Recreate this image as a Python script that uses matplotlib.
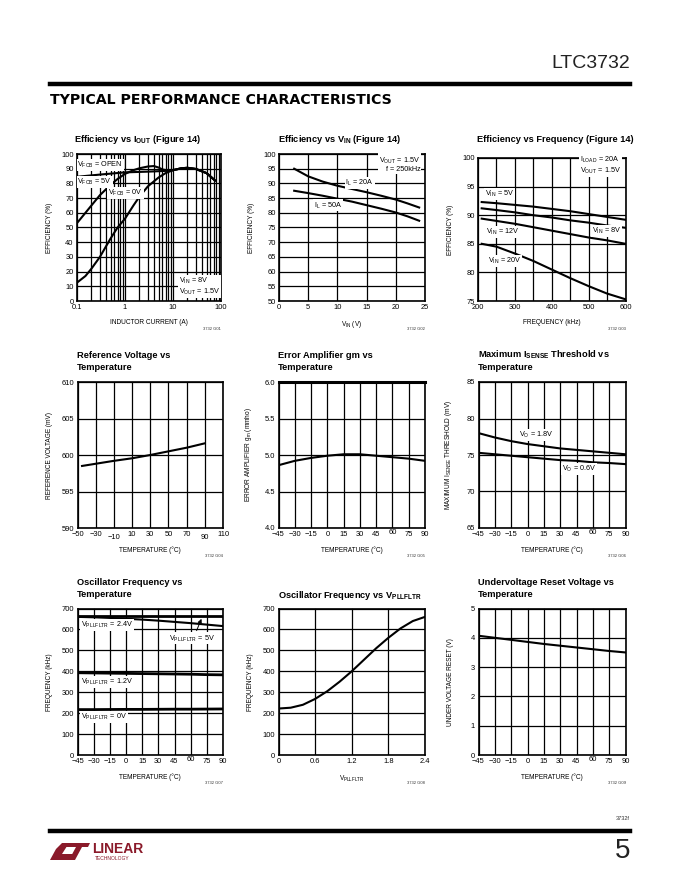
import numpy as np
import matplotlib.pyplot as plt
import matplotlib.transforms as mtransforms
from matplotlib.patches import Polygon

plt.rcParams['font.family'] = ['Liberation Sans Narrow', 'Liberation Sans', 'DejaVu Sans']
plt.rcParams['axes.unicode_minus'] = True

W, H = 680, 880

# ---------------- data ----------------
# G01 efficiency vs inductor current
iout_0v = [0.1, 0.15, 0.2, 0.3, 0.5, 0.7, 1, 1.5, 2, 3, 5, 7, 10, 15, 20, 30, 50, 75]
eff_0v = [12.5, 17, 22, 30, 42.5, 50, 56, 65, 71, 78, 84, 87, 89, 90.3, 90.6, 89.8, 87, 82]
iout_5v = [0.1, 0.15, 0.2, 0.3, 0.5, 0.7, 1, 1.5, 2, 3, 4, 5, 6, 8, 10, 15, 20, 30, 50, 75]
eff_5v = [53, 60, 65, 72, 79, 83, 86.5, 89, 90.3, 91.5, 91.8, 90.8, 89.5, 88.7, 89, 90.3, 90.6, 89.8, 87, 82]
iout_open = [0.1, 0.3, 1, 3, 5, 8, 10, 15, 20, 30, 50, 75]
eff_open = [84.5, 86, 87.5, 88, 88.3, 88.6, 89, 90.3, 90.6, 89.8, 87, 82]

# G02 efficiency vs VIN
vin = [2.6, 5, 7.5, 10, 12.5, 15, 17.5, 20, 22, 24]
eff_20a = [95, 92.4, 90.6, 89.2, 88.1, 87, 85.8, 84.5, 83.2, 81.8]
eff_50a = [87.5, 86.7, 85.8, 84.8, 83.8, 82.6, 81.4, 80.1, 78.8, 77.3]

# G03 efficiency vs frequency
freq = [210, 250, 300, 350, 400, 450, 500, 550, 600]
eff_vin5 = [92.3, 92.1, 91.8, 91.5, 91.1, 90.7, 90.2, 89.7, 89.2]
eff_vin8 = [91.2, 90.9, 90.5, 90.0, 89.6, 89.1, 88.7, 88.2, 87.8]
eff_vin12 = [89.4, 89.0, 88.5, 87.9, 87.3, 86.7, 86.1, 85.6, 85.0]
eff_vin20 = [85.0, 84.5, 83.3, 82.0, 80.5, 79.0, 77.6, 76.3, 75.3]

# G04 reference voltage vs temperature
temp_ref = [-45, -30, -10, 10, 30, 50, 70, 90]
vref = [598.5, 598.8, 599.2, 599.55, 600.0, 600.5, 601.0, 601.6]

# temperature axis shared by G05, G06, G07, G09
temp = [-45, -30, -15, 0, 15, 30, 45, 60, 75, 90]
gm = [4.86, 4.92, 4.96, 4.99, 5.01, 5.01, 4.99, 4.97, 4.95, 4.92]
isense_18 = [78.0, 77.4, 76.9, 76.5, 76.2, 75.9, 75.7, 75.5, 75.3, 75.1]
isense_06 = [75.3, 75.1, 74.9, 74.7, 74.5, 74.3, 74.2, 74.0, 73.9, 73.75]
fosc_5v = [665, 665, 665, 665, 665, 665, 665, 665, 665, 665]
fosc_24v = [660, 658, 655, 651, 647, 642, 636, 630, 623, 616]
fosc_12v = [393, 392, 391, 390, 389, 388, 387, 386, 384, 383]
fosc_0v = [217, 217, 217.5, 218, 218, 218.5, 219, 219, 219.5, 220]
uvr = [4.07, 4.0, 3.93, 3.86, 3.79, 3.73, 3.67, 3.61, 3.55, 3.50]

# G08 oscillator frequency vs VPLLFLTR
vpll = [0, 0.2, 0.4, 0.6, 0.8, 1.0, 1.2, 1.4, 1.6, 1.8, 2.0, 2.2, 2.4]
fosc_pll = [222, 226, 240, 268, 305, 350, 400, 455, 510, 560, 605, 640, 660]

temp_ticks = [-45, -30, -15, 0, 15, 30, 45, 60, 75, 90]
temp_labels = ['\u221245', '\u221230', '\u221215', '0', '15', '30', '45', '60', '75', '90']


def sub(base, s):
    return base + r'$_{\mathregular{' + s + '}}$'


def rect(l, r, t, b):
    return [l / W, 1 - b / H, (r - l) / W, (b - t) / H]


def ftext(x, y, s, **kw):
    return fig.text(x / W, 1 - y / H, s, **kw)


TF = 5.4   # tick font
LF = 4.7   # axis label font
TITLE = 6.7
LW = 1.5


def style(ax, xlabel, ylabel, fig_id):
    for sp in ax.spines.values():
        sp.set_linewidth(1.2)
    ax.tick_params(which='both', length=0, labelsize=TF, pad=2.5)
    ax.grid(True, which='both', color='black', linewidth=0.9)
    ax.set_axisbelow(True)
    ax.set_xlabel(xlabel, fontsize=LF)
    ax.set_ylabel(ylabel, fontsize=LF)
    ax.xaxis.set_label_coords(0.5, -0.125)
    ax.yaxis.set_label_coords(-0.165, 0.5)
    pos = ax.get_position()
    fig.text(pos.x1, pos.y0 - 28 / H, fig_id, fontsize=3, ha='right', va='center', color='#333333')


def label(ax, x, y, s, **kw):
    kw.setdefault('fontsize', 5.2)
    kw.setdefault('va', 'center')
    ax.text(x, y, s, bbox=dict(facecolor='white', edgecolor='none', pad=0.6),
            linespacing=1.15, **kw)


def nudge(ax, texts, dy):
    for lab in ax.get_xticklabels():
        if lab.get_text() in texts:
            lab.set_transform(lab.get_transform() +
                              mtransforms.ScaledTranslation(0, dy / 72, fig.dpi_scale_trans))


fig = plt.figure(figsize=(6.8, 8.8), dpi=100)

# ---------------- page furniture ----------------
ftext(630, 63, 'LTC3732', fontsize=14, ha='right', va='center', color='#222222')
fig.add_artist(plt.Line2D([50 / W, 630 / W], [1 - 84 / H] * 2, color='black', linewidth=3.2))
ftext(50, 100, 'TYPICAL PERFORMANCE CHARACTERISTICS', fontsize=10.2, fontweight='heavy',
      family=['DejaVu Sans'], ha='left', va='center')
fig.add_artist(plt.Line2D([50 / W, 630 / W], [1 - 831 / H] * 2, color='black', linewidth=3.2))
ftext(630, 818, '3732f', fontsize=4, ha='right', va='center', color='#333333')
ftext(630, 851, '5', fontsize=20, ha='right', va='center', color='#222222')
red = '#8a1a2a'
logo1 = [(50, 860), (56, 849), (62, 843), (69, 843), (62, 854), (75, 854), (72, 860)]
logo2 = [(64, 843), (90, 843), (88, 847), (82, 847), (75, 860), (69, 860), (76, 847), (62, 847)]
for pts in (logo1, logo2):
    fig.add_artist(Polygon([(x / W, 1 - y / H) for x, y in pts], closed=True,
                           transform=fig.transFigure, facecolor=red, edgecolor='none'))
ftext(92, 849, 'LINEAR', fontsize=10, fontweight='bold', color=red, ha='left', va='center')
ftext(95, 858, 'TECHNOLOGY', fontsize=3.6, color=red, ha='left', va='center')

# ---------------- titles ----------------
ftext(74, 139, 'Efficiency vs ' + sub('I', 'OUT') + ' (Figure 14)', fontsize=TITLE, fontweight='bold', va='center')
ftext(278, 139, 'Efficiency vs ' + sub('V', 'IN') + ' (Figure 14)', fontsize=TITLE, fontweight='bold', va='center')
ftext(477, 139, 'Efficiency vs Frequency (Figure 14)', fontsize=TITLE, fontweight='bold', va='center')
titles2 = [(77, ['Reference Voltage vs', 'Temperature']),
           (278, ['Error Amplifier gm vs', 'Temperature']),
           (478, ['Maximum ' + sub('I', 'SENSE') + ' Threshold vs', 'Temperature'])]
for x, lines in titles2:
    ftext(x, 355, lines[0], fontsize=TITLE, fontweight='bold', va='center')
    ftext(x, 367, lines[1], fontsize=TITLE, fontweight='bold', va='center')
ftext(77, 582, 'Oscillator Frequency vs', fontsize=TITLE, fontweight='bold', va='center')
ftext(77, 594, 'Temperature', fontsize=TITLE, fontweight='bold', va='center')
ftext(278, 595, 'Oscillator Frequency vs ' + sub('V', 'PLLFLTR'), fontsize=TITLE, fontweight='bold', va='center')
ftext(478, 582, 'Undervoltage Reset Voltage vs', fontsize=TITLE, fontweight='bold', va='center')
ftext(478, 594, 'Temperature', fontsize=TITLE, fontweight='bold', va='center')

# ---------------- G01 ----------------
ax = fig.add_axes(rect(77, 221, 154, 301))
ax.plot(iout_0v, eff_0v, color='black', lw=LW)
ax.plot(iout_5v, eff_5v, color='black', lw=LW)
ax.plot(iout_open, eff_open, color='black', lw=LW)
ax.set_xscale('log')
ax.set_xlim(0.1, 100)
ax.set_ylim(0, 100)
ax.set_xticks([0.1, 1, 10, 100], labels=['0.1', '1', '10', '100'])
ax.set_yticks(np.arange(0, 101, 10))
style(ax, 'INDUCTOR CURRENT (A)', 'EFFICIENCY (%)', '3732 G01')
ax.grid(False, axis='y', which='minor')
label(ax, 0.102, 92.5, sub('V', 'FCB') + ' = OPEN', ha='left')
label(ax, 0.102, 81, sub('V', 'FCB') + ' = 5V', ha='left')
label(ax, 0.45, 73.5, sub('V', 'FCB') + ' = 0V', ha='left')
label(ax, 13.5, 9.8, sub('V', 'IN') + ' = 8V\n' + sub('V', 'OUT') + ' = 1.5V', ha='left')

# ---------------- G02 ----------------
ax = fig.add_axes(rect(279, 425, 154, 301))
ax.plot(vin, eff_20a, color='black', lw=LW)
ax.plot(vin, eff_50a, color='black', lw=LW)
ax.set_xlim(0, 25)
ax.set_ylim(50, 100)
ax.set_xticks(np.arange(0, 26, 5))
ax.set_yticks(np.arange(50, 101, 5))
style(ax, sub('V', 'IN') + ' (V)', 'EFFICIENCY (%)', '3732 G02')
label(ax, 13.8, 90.2, sub('I', 'L') + ' = 20A', ha='center')
label(ax, 6.0, 82.5, sub('I', 'L') + ' = 50A', ha='left')
label(ax, 24.2, 96.5, sub('V', 'OUT') + ' = 1.5V\nf = 250kHz', ha='right', multialignment='right')

# ---------------- G03 ----------------
ax = fig.add_axes(rect(478, 625.5, 158, 301))
for y in (eff_vin5, eff_vin8, eff_vin12, eff_vin20):
    ax.plot(freq, y, color='black', lw=LW)
ax.set_xlim(200, 600)
ax.set_ylim(75, 100)
ax.set_xticks(np.arange(200, 601, 100))
ax.set_xticks(np.arange(250, 600, 100), minor=True)
ax.set_yticks(np.arange(75, 101, 5))
style(ax, 'FREQUENCY (kHz)', 'EFFICIENCY (%)', '3732 G03')
label(ax, 218, 93.7, sub('V', 'IN') + ' = 5V', ha='left')
label(ax, 222, 87.0, sub('V', 'IN') + ' = 12V', ha='left')
label(ax, 588, 87.2, sub('V', 'IN') + ' = 8V', ha='right')
label(ax, 227, 82.0, sub('V', 'IN') + ' = 20V', ha='left')
label(ax, 476, 98.7, sub('I', 'LOAD') + ' = 20A\n' + sub('V', 'OUT') + ' = 1.5V', ha='left')

# ---------------- G04 ----------------
ax = fig.add_axes(rect(77.5, 223, 382, 528))
ax.plot(temp_ref, vref, color='black', lw=LW)
ax.set_xlim(-50, 110)
ax.set_ylim(590, 610)
ticks4 = np.arange(-50, 111, 20)
ax.set_xticks(ticks4, labels=[str(t).replace('-', '\u2212') for t in ticks4])
ax.set_yticks(np.arange(590, 611, 5))
style(ax, 'TEMPERATURE (\u00b0C)', 'REFERENCE VOLTAGE (mV)', '3732 G04')
nudge(ax, ['\u221210', '90'], -1.5)

# ---------------- G05 ----------------
ax = fig.add_axes(rect(278.5, 425, 382, 528))
ax.plot(temp, gm, color='black', lw=LW)
ax.set_xlim(-45, 90)
ax.set_ylim(4.0, 6.0)
ax.set_xticks(temp_ticks, labels=temp_labels)
ax.set_yticks(np.arange(4.0, 6.01, 0.5))
ax.set_yticklabels(['4.0', '4.5', '5.0', '5.5', '6.0'])
style(ax, 'TEMPERATURE (\u00b0C)', 'ERROR AMPLIFIER ' + sub('g', 'm') + ' (mmho)', '3732 G05')
ax.spines['top'].set_linewidth(2.2)
nudge(ax, ['60'], 1.5)

# ---------------- G06 ----------------
ax = fig.add_axes(rect(478.5, 625.5, 382, 528))
ax.plot(temp, isense_18, color='black', lw=LW)
ax.plot(temp, isense_06, color='black', lw=LW)
ax.set_xlim(-45, 90)
ax.set_ylim(65, 85)
ax.set_xticks(temp_ticks, labels=temp_labels)
ax.set_yticks(np.arange(65, 86, 5))
style(ax, 'TEMPERATURE (\u00b0C)', 'MAXIMUM ' + sub('I', 'SENSE') + ' THRESHOLD (mV)', '3732 G06')
label(ax, -7.5, 77.7, sub('V', 'O') + ' = 1.8V', ha='left')
label(ax, 31.5, 73.1, sub('V', 'O') + ' = 0.6V', ha='left')
nudge(ax, ['60'], 1.5)

# ---------------- G07 ----------------
ax = fig.add_axes(rect(77.5, 223, 608.5, 755))
ax.plot(temp, fosc_5v, color='black', lw=2.0)
ax.plot(temp, fosc_24v, color='black', lw=LW)
ax.plot(temp, fosc_12v, color='black', lw=2.0)
ax.plot(temp, fosc_0v, color='black', lw=2.0)
ax.set_xlim(-45, 90)
ax.set_ylim(0, 700)
ax.set_xticks(temp_ticks, labels=temp_labels)
ax.set_yticks(np.arange(0, 701, 100))
style(ax, 'TEMPERATURE (\u00b0C)', 'FREQUENCY (kHz)', '3732 G07')
label(ax, -41.5, 620, sub('V', 'PLLFLTR') + ' = 2.4V', ha='left')
label(ax, 82.5, 557, sub('V', 'PLLFLTR') + ' = 5V', ha='right')
label(ax, -41.5, 350, sub('V', 'PLLFLTR') + ' = 1.2V', ha='left')
label(ax, -41.5, 183, sub('V', 'PLLFLTR') + ' = 0V', ha='left')
ax.annotate('', xy=(71, 663), xytext=(64.5, 582),
            arrowprops=dict(arrowstyle='-|>', color='black', lw=0.7, mutation_scale=6))
nudge(ax, ['60'], 1.5)

# ---------------- G08 ----------------
ax = fig.add_axes(rect(278.5, 425, 608.5, 755))
ax.plot(vpll, fosc_pll, color='black', lw=LW)
ax.set_xlim(0, 2.4)
ax.set_ylim(0, 700)
ax.set_xticks([0, 0.6, 1.2, 1.8, 2.4], labels=['0', '0.6', '1.2', '1.8', '2.4'])
ax.set_yticks(np.arange(0, 701, 100))
style(ax, sub('V', 'PLLFLTR'), 'FREQUENCY (kHz)', '3732 G08')

# ---------------- G09 ----------------
ax = fig.add_axes(rect(478.5, 625.5, 608.5, 755))
ax.plot(temp, uvr, color='black', lw=LW)
ax.set_xlim(-45, 90)
ax.set_ylim(0, 5)
ax.set_xticks(temp_ticks, labels=temp_labels)
ax.set_yticks(np.arange(0, 6, 1))
style(ax, 'TEMPERATURE (\u00b0C)', 'UNDER VOLTAGE RESET (V)', '3732 G09')
nudge(ax, ['60'], 1.5)

fig.savefig('out.png', dpi=100)
